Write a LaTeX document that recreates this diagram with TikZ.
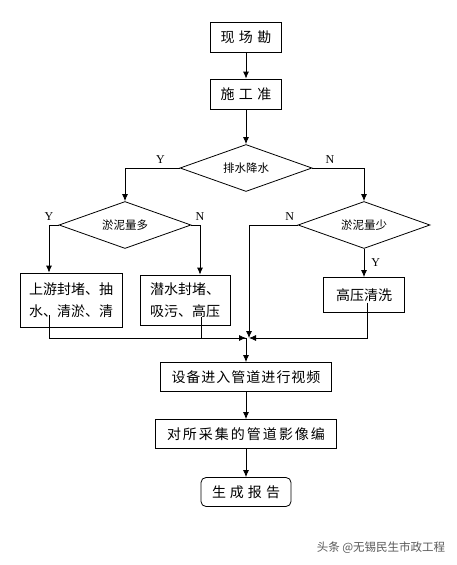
\documentclass[tikz,border=0pt]{standalone}
\usepackage{fontspec}
\newfontfamily\cjk{Noto Sans CJK SC}
\newfontfamily\lat{Liberation Serif}
\usetikzlibrary{positioning,shapes.geometric,arrows.meta}
\newcommand{\gp}[1]{\hspace{#1}}
\tikzset{
  box/.style={draw, inner sep=0pt, font=\cjk\fontsize{14}{22}\selectfont},
  dec/.style={draw, diamond, aspect=2.8, inner sep=0pt, minimum width=132pt, minimum height=47pt, font=\cjk\fontsize{11.5}{13}\selectfont},
  yn/.style={font=\lat\fontsize{12}{14}\selectfont, inner sep=1pt},
}
\begin{document}
\begin{tikzpicture}[node distance=57pt, on grid, >={Latex[length=7pt,width=6pt]}, line width=0.8pt]
            \useasboundingbox (0,0) rectangle (457pt,-565pt);
            \node[box, minimum width=71pt, minimum height=30pt] (K) at (246pt,-37pt) {现\gp{4.5pt}场\gp{4.5pt}勘};
            \node[box, minimum width=71pt, minimum height=30pt] (P) [below=of K] {施\gp{4.5pt}工\gp{4.5pt}准};
            \node[dec] (Q) [below=74pt of P] {排水降水};
            \node[dec] (L) [below left=57pt and 121pt of Q] {淤泥量多};
            \node[dec] (R) [below right=57pt and 118pt of Q] {淤泥量少};
            \node[box, minimum width=102pt, minimum height=54pt, align=left] (A) [below left=75pt and 54pt of L] {上游封堵、抽\\水、清淤、清};
            \node[box, minimum width=90pt, minimum height=50pt, align=left] (B) [below right=75pt and 60pt of L] {潜水封堵、\\吸污、高压};
            \node[box, minimum width=81pt, minimum height=35pt] (C) [below=70pt of R] {高压清洗};
            \node[box, minimum width=171pt, minimum height=29pt] (D) [below=209pt of Q] {设\gp{1pt}备\gp{1pt}进\gp{1pt}入\gp{1pt}管\gp{1pt}道\gp{1pt}进\gp{1pt}行\gp{1pt}视\gp{1pt}频};
            \node[box, minimum width=181pt, minimum height=29pt] (E) [below=of D] {对\gp{2pt}所\gp{2pt}采\gp{2pt}集\gp{2pt}的\gp{2pt}管\gp{2pt}道\gp{2pt}影\gp{2pt}像\gp{2pt}编};
            \node[box, rounded corners=5pt, minimum width=90pt, minimum height=29pt] (F) [below=58pt of E] {生\gp{4pt}成\gp{4pt}报\gp{4pt}告};
            \node[font=\cjk\fontsize{11.5}{13}\selectfont, text=black!65] (W) at (381pt,-548pt) {头条 @无锡民生市政工程};
            \coordinate[above=39pt of D] (M);
            \coordinate[right=3pt of M] (Mr);
            \draw[->] (K) -- (P);
            \draw[->] (P) -- (Q);
            \draw[->] (Q.west) -| node[yn, above=3pt, pos=0.175] {Y} (L.north);
            \draw[->] (Q.east) -| node[yn, above=3pt, pos=0.17] {N} (R.north);
            \draw[->] (L.west) -| node[yn, above=3pt] {Y} ([xshift=-22pt]A.north);
            \draw[->] (L.east) -| node[yn, above=3pt] {N} ([xshift=15pt]B.north);
            \draw[->] (R.west) -| node[yn, above=3pt, pos=0.08] {N} (Mr);
            \draw[->] (R) -- node[yn, right=6pt] {Y} (C);
            \draw[->] ([xshift=-22pt,yshift=12pt]A.south) |- (M);
            \draw ([xshift=16pt,yshift=8pt]B.south) |- (M);
            \draw[->] ([xshift=3pt,yshift=10pt]C.south) |- (Mr);
            \draw[->] (M) -- (D);
            \draw[->] (D) -- (E);
            \draw[->] (E) -- (F);
            \end{tikzpicture}
\end{document}
